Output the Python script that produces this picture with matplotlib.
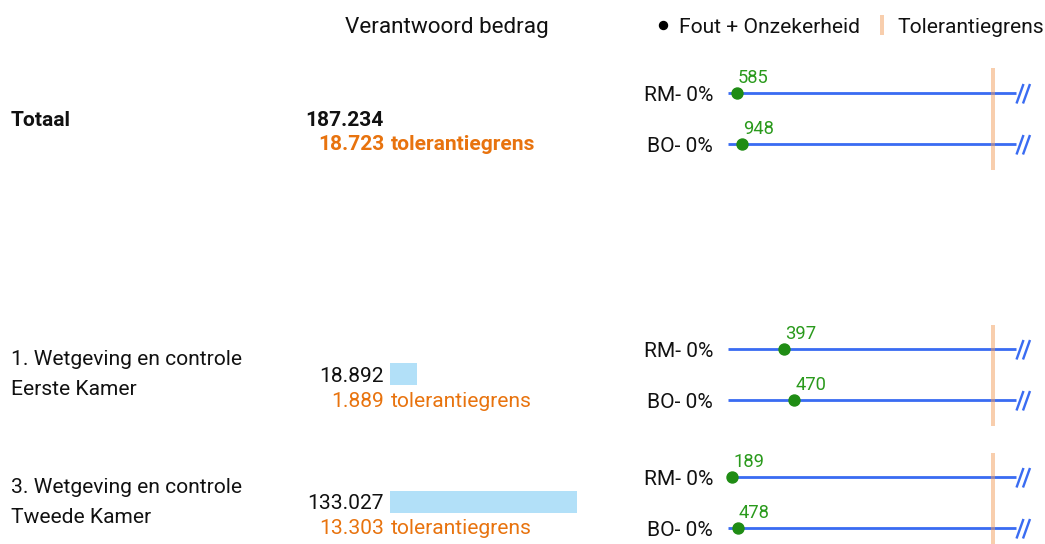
import matplotlib
matplotlib.use("Agg")
import matplotlib.pyplot as plt
from matplotlib.path import Path

# ---------------- data ----------------
group_names = ["Totaal",
               "1. Wetgeving en controle\nEerste Kamer",
               "3. Wetgeving en controle\nTweede Kamer"]
amounts = [187234, 18892, 133027]
amount_labels = ["187.234", "18.892", "133.027"]
tolerances = [18723, 1889, 13303]
tolerance_labels = ["18.723", "1.889", "13.303"]
rm_values = [585, 397, 189]
bo_values = [948, 470, 478]
row_labels = ["RM- 0%", "BO- 0%"]
show_bar = [False, True, True]
is_total = [True, False, False]
header = "Verantwoord bedrag"
legend_labels = ["Fout + Onzekerheid", "Tolerantiegrens"]

# ---------------- style ----------------
W, H = 1045, 544
PT = 0.72  # points per pixel at dpi 100
FS = 15.15
FS_HEAD = 16.2
FS_SMALL = 13.2
BLUE = "#3a6cf2"
GREEN = "#1f8c14"
GREEN_TXT = "#2a9a1c"
ORANGE_TXT = "#e8730e"
TOL = "#f39f5d"
BAR = "#b2e0f8"
TXT = "#111111"

plt.rcParams['font.family'] = ['Roboto', 'DejaVu Sans']

fig = plt.figure(figsize=(W / 100, H / 100), dpi=100)

# layout axes in pixel coordinates (text, legend)
lay = fig.add_axes([0, 0, 1, 1])
lay.set_xlim(0, W)
lay.set_ylim(H, 0)
lay.axis("off")

# header and legend
lay.text(447, 33, header, fontsize=FS_HEAD, color=TXT, ha="center", va="baseline")
lay.plot([663], [25], "o", ms=8 * PT, color="black")
lay.text(679, 33, legend_labels[0], fontsize=FS, color=TXT, ha="left", va="baseline")
lay.plot([882, 882], [15, 35], lw=4 * PT, color=TOL, alpha=0.5, solid_capstyle="butt")
lay.text(897, 33, legend_labels[1], fontsize=FS, color=TXT, ha="left", va="baseline")

# per-group layout (pixel positions)
label_base = [126.5, 365, 493]
LINE_GAP = 30
num_base = [126.5, 381.5, 509]
tol_base = [149.5, 407, 534]
bar_center = [119, 374, 502]
row1_y = [93, 349, 477]
ROW_GAP = 51

# bar axes
bar_left, bar_right = 390, 650
bax = fig.add_axes([bar_left / W, 0, (bar_right - bar_left) / W, 1])
bax.set_ylim(H, 0)
sub_max = max(a for a, s in zip(amounts, show_bar) if s)
bax.set_xlim(0, sub_max * (bar_right - bar_left) / 187)
bax.axis("off")
bax.patch.set_alpha(0)

for i, name in enumerate(group_names):
    weight = "bold" if is_total[i] else "normal"
    for k, line in enumerate(name.split("\n")):
        lay.text(11, label_base[i] + k * LINE_GAP, line, fontsize=FS, color=TXT,
                 ha="left", va="baseline", fontweight=weight)
    lay.text(384, num_base[i], amount_labels[i], fontsize=FS, color=TXT,
             ha="right", va="baseline", fontweight=weight)
    lay.text(384, tol_base[i], tolerance_labels[i], fontsize=FS, color=ORANGE_TXT,
             ha="right", va="baseline", fontweight=weight)
    lay.text(390.5, tol_base[i], "tolerantiegrens", fontsize=FS, color=ORANGE_TXT,
             ha="left", va="baseline", fontweight=weight)
    if show_bar[i]:
        bax.barh([bar_center[i]], [amounts[i]], height=22, color=BAR, left=0)

    # dot plot axes for this group
    x0, x1, xtol, xend = 728.3, 1040, 993, 1016
    top = row1_y[i] - 24.5
    bottom = row1_y[i] + ROW_GAP + 25.5
    ax = fig.add_axes([x0 / W, 1 - bottom / H, (x1 - x0) / W, (bottom - top) / H])
    ax.axis("off")
    ax.patch.set_alpha(0)
    tol = tolerances[i]
    scale = tol / (xtol - x0)
    ax.set_xlim(0, (x1 - x0) * scale)
    ax.set_ylim((bottom - row1_y[i]) / ROW_GAP, (top - row1_y[i]) / ROW_GAP)
    line_end = (xend - x0) * scale

    brk = Path([(0, -10), (7, 9.5), (6.5, -10), (13.5, 9.5)],
               [Path.MOVETO, Path.LINETO, Path.MOVETO, Path.LINETO])

    for r, vals in enumerate([rm_values, bo_values]):
        v = vals[i]
        ax.plot([0, line_end], [r, r], lw=2.8 * PT, color=BLUE, zorder=2,
                solid_capstyle="butt", clip_on=False)
        ax.plot([line_end], [r], marker=brk, ms=27 * PT, mew=2.4 * PT,
                mec=BLUE, fillstyle="none", ls="none", zorder=2, clip_on=False)
        ax.plot([v], [r], "o", ms=11 * PT, color=GREEN, zorder=4, clip_on=False)
        ax.annotate(str(v), (v, r), xytext=(1 * PT, 10 * PT),
                    textcoords="offset points", ha="left", va="baseline",
                    fontsize=FS_SMALL, color=GREEN_TXT, annotation_clip=False)
        lay.text(713, row1_y[i] + r * ROW_GAP + 8, row_labels[r], fontsize=FS,
                 color=TXT, ha="right", va="baseline")
    ax.axvline(tol, ymin=0, ymax=1, lw=4 * PT, color=TOL, alpha=0.5, zorder=3)

fig.savefig("out.png", dpi=100)
